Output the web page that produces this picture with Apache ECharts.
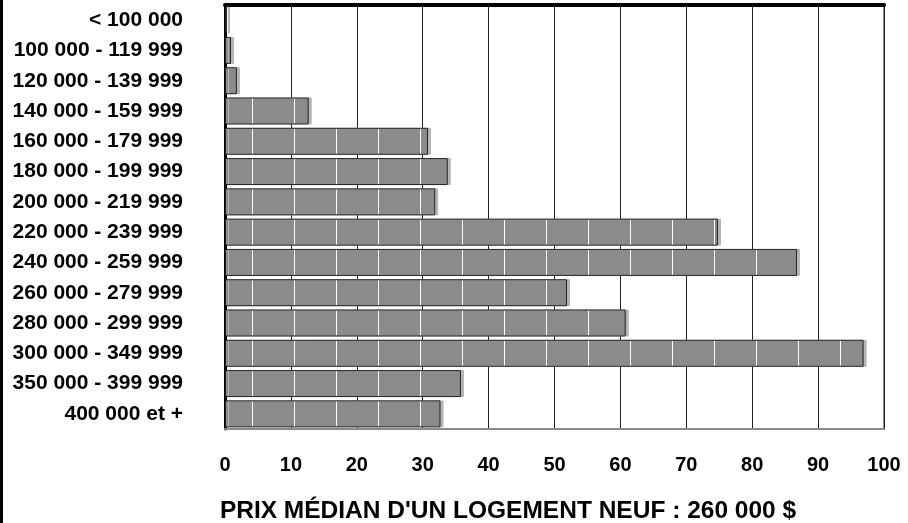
<!DOCTYPE html>
<html>
<head>
<meta charset="utf-8">
<script src="https://cdn.jsdelivr.net/npm/echarts@6/dist/echarts.min.js"></script>
<style>
  html, body { margin: 0; padding: 0; background: #fff; }
  #chart { position: absolute; left: 0; top: 0; width: 908px; height: 523px; }
  #bord { position: absolute; left: 0; top: 0; width: 3px; height: 523px; background: #000; }
</style>
</head>
<body>
<div id="chart"></div>
<div id="bord"></div>
<script>
const tranches = [
  "< 100 000", "100 000 - 119 999", "120 000 - 139 999", "140 000 - 159 999",
  "160 000 - 179 999", "180 000 - 199 999", "200 000 - 219 999", "220 000 - 239 999",
  "240 000 - 259 999", "260 000 - 279 999", "280 000 - 299 999", "300 000 - 349 999",
  "350 000 - 399 999", "400 000 et +"
];
const ventes = [0.3, 0.9, 1.8, 12.7, 30.8, 33.8, 31.9, 74.8, 86.8, 51.9, 60.8, 96.9, 35.8, 32.7];
const ticksX = [0, 10, 20, 30, 40, 50, 60, 70, 80, 90, 100];
const titre = "PRIX MÉDIAN D'UN LOGEMENT NEUF : 260 000 $";

// petite texture grise (damier + trait blanc) pour les barres
function texture() {
  const c = document.createElement("canvas");
  c.width = 42;
  c.height = 2;
  const ctx = c.getContext("2d");
  for (let x = 0; x < 42; x++) {
    for (let y = 0; y < 2; y++) {
      ctx.fillStyle = (x + y) % 2 ? "#848484" : "#929292";
      ctx.fillRect(x, y, 1, 1);
    }
  }
  ctx.fillStyle = "#ffffff";
  ctx.fillRect(0, 0, 1, 2);
  return c;
}

const police = "'Liberation Sans', Arial, sans-serif";
const chart = echarts.init(document.getElementById("chart"));

chart.setOption({
  animation: false,
  title: {
    text: titre,
    left: 503,
    textAlign: "center",
    top: 494,
    textStyle: {
      fontFamily: police,
      fontWeight: "bold",
      fontSize: 24.5,
      color: "#000"
    }
  },
  grid: {
    left: 225, right: 24, top: 5, bottom: 94,
    show: true, borderColor: "#8a8a8a", borderWidth: 2
  },
  xAxis: [
    {
      type: "value",
      min: ticksX[0],
      max: ticksX[ticksX.length - 1],
      interval: 10,
      axisLine: { show: true, lineStyle: { color: "#8a8a8a", width: 2 } },
      axisTick: { show: false },
      axisLabel: {
        margin: 26,
        fontFamily: police,
        fontWeight: "bold",
        fontSize: 20,
        color: "#000"
      },
      splitLine: { show: true, lineStyle: { color: "#222", width: 1 } }
    },
    {
      type: "value",
      position: "top",
      min: 0,
      max: 100,
      axisLine: { show: true, lineStyle: { color: "#000", width: 4 } },
      axisTick: { show: false },
      axisLabel: { show: false },
      splitLine: { show: false }
    }
  ],
  yAxis: {
    type: "category",
    inverse: true,
    data: tranches,
    axisLine: { show: true, lineStyle: { color: "#000", width: 3 } },
    axisTick: { show: false },
    axisLabel: {
      margin: 42,
      fontFamily: police,
      fontWeight: "bold",
      fontSize: 21,
      color: "#000"
    }
  },
  series: [
    {
      type: "bar",
      data: ventes,
      barCategoryGap: "11%",
      itemStyle: {
        color: { image: texture(), repeat: "repeat" },
        borderColor: "#2a2020",
        borderWidth: 1,
        shadowColor: "#b4b4b4",
        shadowOffsetX: 3,
        shadowOffsetY: 0,
        shadowBlur: 0
      }
    }
  ]
});
</script>
</body>
</html>
